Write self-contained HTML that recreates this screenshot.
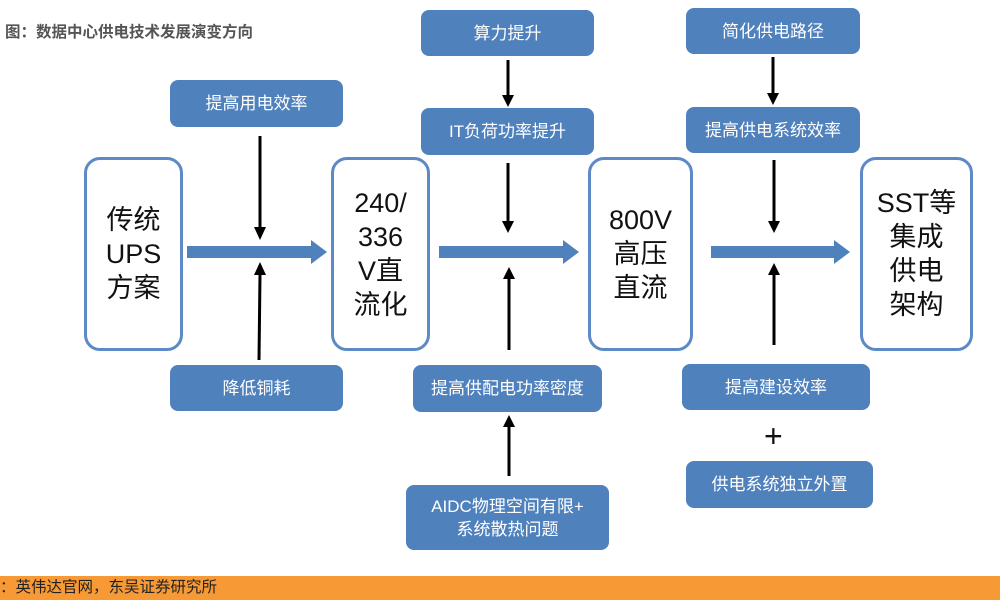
<!DOCTYPE html>
<html><head><meta charset="utf-8"><style>
body{margin:0;width:1000px;height:600px;position:relative;background:#fff;overflow:hidden;font-family:"Liberation Sans","Noto Sans CJK SC",sans-serif}
.t{position:absolute;left:5px;top:20px;font-size:15.5px;font-weight:bold;color:#555}
.big{position:absolute;border:3px solid #5b8ac6;border-radius:16px;box-sizing:border-box;display:flex;align-items:center;justify-content:center;text-align:center;font-size:27px;line-height:34px;color:#111;top:157px;height:194px}
.s{position:absolute;background:#4f81bd;border-radius:8px;color:#fff;display:flex;align-items:center;justify-content:center;text-align:center;font-size:17px;line-height:23px}
.foot{position:absolute;left:0;top:576px;width:1000px;height:24px;background:#f79a35;font-size:15.5px;line-height:24px;color:#222}
svg{position:absolute;left:0;top:0}
</style></head><body>
<div class="t">图：数据中心供电技术发展演变方向</div>
<svg width="1000" height="600">
<g fill="#4f81bd">
<rect x="187" y="246" width="126" height="12"/><polygon points="311,240 327,252 311,264"/>
<rect x="439" y="246" width="126" height="12"/><polygon points="563,240 579,252 563,264"/>
<rect x="711" y="246" width="125" height="12"/><polygon points="834,240 850,252 834,264"/>
</g>
<g stroke="#000" stroke-width="3">
<line x1="260" y1="136" x2="260" y2="228"/><line x1="259" y1="360" x2="260" y2="274"/>
<line x1="508" y1="60" x2="508" y2="96"/><line x1="508" y1="163" x2="508" y2="222"/>
<line x1="509" y1="350" x2="509" y2="278"/><line x1="509" y1="476" x2="509" y2="426"/>
<line x1="773" y1="57" x2="773" y2="94"/><line x1="774" y1="160" x2="774" y2="222"/>
<line x1="774" y1="345" x2="774" y2="274"/>
</g>
<g fill="#000">
<polygon points="254,227 266,227 260,240"/><polygon points="254,275 266,275 260,262"/>
<polygon points="502,95 514,95 508,107"/><polygon points="502,221 514,221 508,233"/>
<polygon points="503,279 515,279 509,267"/><polygon points="503,427 515,427 509,415"/>
<polygon points="767,93 779,93 773,105"/><polygon points="768,221 780,221 774,233"/>
<polygon points="768,275 780,275 774,263"/>
</g>
</svg>
<div class="big" style="left:84px;width:99px">传统<br>UPS<br>方案</div>
<div class="big" style="left:331px;width:99px">240/<br>336<br>V直<br>流化</div>
<div class="big" style="left:588px;width:105px">800V<br>高压<br>直流</div>
<div class="big" style="left:860px;width:113px">SST等<br>集成<br>供电<br>架构</div>
<div class="s" style="left:170px;top:80px;width:173px;height:47px">提高用电效率</div>
<div class="s" style="left:170px;top:365px;width:173px;height:46px">降低铜耗</div>
<div class="s" style="left:421px;top:10px;width:173px;height:46px">算力提升</div>
<div class="s" style="left:421px;top:108px;width:173px;height:47px">IT负荷功率提升</div>
<div class="s" style="left:413px;top:365px;width:189px;height:47px">提高供配电功率密度</div>
<div class="s" style="left:406px;top:485px;width:203px;height:65px">AIDC物理空间有限+<br>系统散热问题</div>
<div class="s" style="left:686px;top:8px;width:174px;height:46px">简化供电路径</div>
<div class="s" style="left:686px;top:107px;width:174px;height:46px">提高供电系统效率</div>
<div class="s" style="left:682px;top:364px;width:188px;height:46px">提高建设效率</div>
<div style="position:absolute;left:764px;top:418px;font-size:32px;line-height:36px;color:#111">+</div>
<div class="s" style="left:686px;top:461px;width:187px;height:47px">供电系统独立外置</div>
<div class="foot">：英伟达官网，东吴证券研究所</div>
</body></html>
